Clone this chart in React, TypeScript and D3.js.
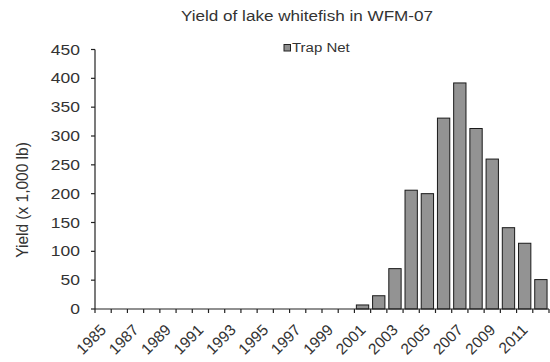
import React from "react";
import * as d3 from "d3";

const years: number[] = [1985,1986,1987,1988,1989,1990,1991,1992,1993,1994,1995,1996,1997,1998,1999,2000,2001,2002,2003,2004,2005,2006,2007,2008,2009,2010,2011,2012];
const trapNet: number[] = [0,0,0,0,0,0,0,0,0,0,0,0,0,0,0,0,7,23,70,206,200,331,392,313,260,141,114,51];
const yTicks: number[] = [0,50,100,150,200,250,300,350,400,450];
const xLabelYears: number[] = [1985,1987,1989,1991,1993,1995,1997,1999,2001,2003,2005,2007,2009,2011];

const W = 550, H = 362;
const left = 95, right = 549, top = 49.5, bottom = 309;
const font = "'Liberation Sans', Arial, sans-serif";
const sx = 1.25;
const ink = "#333";

export default function App() {
  const x = d3.scaleBand<number>().domain(years).range([left, right]).paddingInner(0.24).paddingOuter(0.12);
  const y = d3.scaleLinear().domain([0, 450]).range([bottom, top]);
  const band = (right - left) / years.length;
  const boundaries = d3.range(years.length + 1).map(i => left + i * band);
  const bw = x.bandwidth();

  return (
    <svg width={W} height={H} style={{ position: "absolute", left: 0, top: 0, background: "#fff" }} fontFamily={font}>
      <text transform={`translate(307,21) scale(1.18,1)`} textAnchor="middle" fontSize={14.5} fill={ink}>Yield of lake whitefish in WFM-07</text>
      <rect x={284} y={44.5} width={6.5} height={6.5} fill="#8f8f8f" stroke="#222" strokeWidth={1} />
      <text transform={`translate(292,52) scale(${sx},1)`} fontSize={12} fill={ink}>Trap Net</text>

      {years.map((yr, i) => {
        const v = trapNet[i];
        if (v <= 0) return null;
        const cx = left + (i + 0.5) * band;
        return (
          <rect key={yr} x={cx - bw / 2} y={y(v)} width={bw} height={bottom - y(v)} fill="#939393" stroke="#1a1a1a" strokeWidth={1} />
        );
      })}

      <line x1={left} x2={left} y1={top} y2={bottom} stroke="#222" strokeWidth={1.2} />
      {yTicks.map(t => (
        <g key={t}>
          <line x1={left - 4} x2={left} y1={y(t)} y2={y(t)} stroke="#222" strokeWidth={1.2} />
          <text transform={`translate(${left - 15},${y(t) + 5}) scale(${sx},1)`} textAnchor="end" fontSize={14} fill={ink}>{t}</text>
        </g>
      ))}
      <line x1={left} x2={right} y1={bottom} y2={bottom} stroke="#222" strokeWidth={1.2} />
      {boundaries.map((bx, i) => (
        <line key={i} x1={bx} x2={bx} y1={bottom} y2={bottom + 4} stroke="#222" strokeWidth={1.2} />
      ))}
      {xLabelYears.map(yr => {
        const i = years.indexOf(yr);
        const cx = left + (i + 0.5) * band;
        return (
          <text key={yr} transform={`translate(${cx + 4},${bottom + 22}) rotate(-45)`} textAnchor="end" fontSize={15.5} fill={ink}>{yr}</text>
        );
      })}
      <text transform={`translate(28,200) scale(1.1,1) rotate(-90)`} textAnchor="middle" fontSize={15.5} fill={ink}>Yield (x 1,000 lb)</text>
    </svg>
  );
}
